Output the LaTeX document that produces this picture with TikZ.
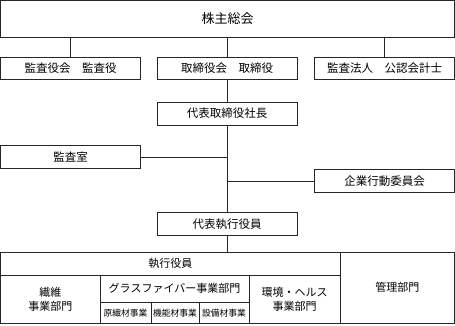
\documentclass[tikz,border=0pt]{standalone}
\usepackage{fontspec}
\setmainfont{Noto Sans CJK JP}
\begin{document}
\begin{tikzpicture}[x=1pt,y=-1pt,
  box/.style={draw=black!85, line width=0.8pt, rectangle, inner sep=0pt, outer sep=0pt, font=\fontsize{11.5}{13}\selectfont},
  cell/.style={draw=black!85, line width=0.8pt, rectangle, inner sep=0pt, outer sep=0pt, align=center, font=\fontsize{11}{13.5}\selectfont},
  small/.style={cell, font=\fontsize{8.8}{10}\selectfont},
  conn/.style={draw=black!85, line width=0.8pt}]
\useasboundingbox (0,0) rectangle (455,325);
% top
\node[box, minimum width=454pt, minimum height=37pt, font=\fontsize{13}{14}\selectfont] (top) at (227.5,19) {株主総会};
% row 2
\node[box, minimum width=140pt, minimum height=22pt] (kansayaku) at (70.5,68) {監査役会\quad 監査役};
\node[box, minimum width=140pt, minimum height=22pt] (torishimari) at (227,68) {取締役会\quad 取締役};
\node[box, minimum width=140pt, minimum height=22pt] (kansahojin) at (384.5,68) {監査法人\quad 公認会計士};
% president
\node[box, minimum width=140pt, minimum height=23pt] (pres) at (227,113.5) {代表取締役社長};
\node[box, minimum width=140pt, minimum height=23pt] (kansashitsu) at (70.5,157) {監査室};
\node[box, minimum width=140pt, minimum height=23pt] (kigyo) at (384.5,181) {企業行動委員会};
\node[box, minimum width=140pt, minimum height=23pt] (rep) at (227,224) {代表執行役員};
% table
\node[cell, minimum width=339.5pt, minimum height=23pt] (exec) at (170.25,263.5) {執行役員};
\node[cell, minimum width=114.5pt, minimum height=71.5pt] (kanri) at (397.25,287.75) {管理部門};
\node[cell, minimum width=99.5pt, minimum height=48.5pt] (seni) at (50.25,299.25) {繊維\\事業部門};
\node[cell, minimum width=149pt, minimum height=27pt] (glass) at (174.5,288.5) {グラスファイバー事業部門};
\node[small, minimum width=51pt, minimum height=21.5pt] (genseni) at (125.5,312.75) {原繊材事業};
\node[small, minimum width=48pt, minimum height=21.5pt] (kinou) at (175,312.75) {機能材事業};
\node[small, minimum width=50pt, minimum height=21.5pt] (setsubi) at (224,312.75) {設備材事業};
\node[cell, minimum width=91pt, minimum height=48.5pt] (kankyo) at (294.5,299.25) {環境・ヘルス\\事業部門};
% connectors
\draw[conn] (kansayaku.north) -- (kansayaku.north |- top.south);
\draw[conn] (torishimari.north) -- (torishimari.north |- top.south);
\draw[conn] (kansahojin.north) -- (kansahojin.north |- top.south);
\draw[conn] (torishimari.south) -- (pres.north);
\draw[conn] (pres.south) -- (rep.north);
\draw[conn] (kansashitsu.east) -- (kansashitsu.east -| pres.south);
\draw[conn] (kigyo.west) -- (kigyo.west -| pres.south);
\draw[conn] (rep.south) -- (rep.south |- exec.north);
\end{tikzpicture}
\end{document}
